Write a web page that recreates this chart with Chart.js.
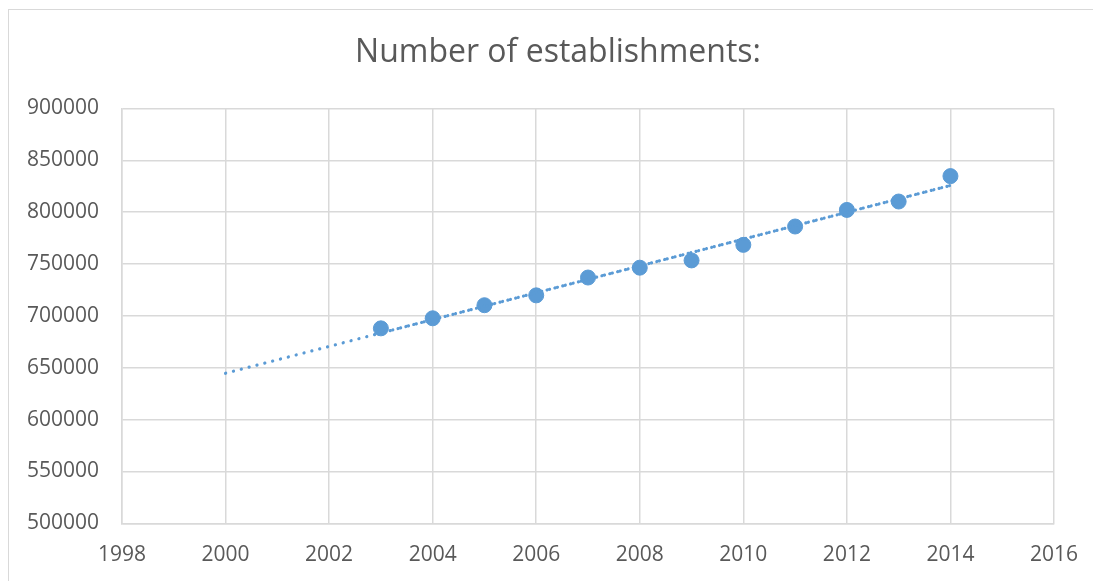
<!DOCTYPE html>
<html>
<head>
<meta charset="utf-8">
<script src="https://cdn.jsdelivr.net/npm/chart.js@4"></script>
<style>
  html, body { margin: 0; padding: 0; background: #fff; }
  #wrap { position: relative; width: 1093px; height: 581px; overflow: hidden; }
  #frame { position: absolute; left: 8px; top: 9px; width: 1100px; height: 600px; border: 1px solid #d9d9d9; box-sizing: border-box; }
  canvas { position: absolute; left: 0; top: 0; }
</style>
</head>
<body>
<div id="wrap">
  <div id="frame"></div>
  <canvas id="chart" width="1093" height="581"></canvas>
</div>
<script>
// Data
const years = [2003, 2004, 2005, 2006, 2007, 2008, 2009, 2010, 2011, 2012, 2013, 2014];
const establishments = [688000, 697700, 710300, 719800, 737000, 746500, 753500, 768500, 786200, 802200, 810300, 834800];
// Linear trendline endpoints (backward forecast to 2000)
const trendYears = [2000, 2014];
const trendValues = [644700, 825800];
const trendYearsShort = [2003, 2014];
const trendValuesShort = [683500, 825800];
const xTicks = [1998, 2000, 2002, 2004, 2006, 2008, 2010, 2012, 2014, 2016];
const chartTitle = 'Number of establishments:';

const blue = '#5b9bd5';
const textColor = '#595959';
const gridColor = '#d9d9d9';
const font = '"Open Sans", sans-serif';

const toPoints = (xs, ys) => xs.map((x, i) => ({ x: x, y: ys[i] }));

// Title drawn by hand so it can sit off-centre like the original
const titlePlugin = {
    id: 'offsetTitle',
    afterDraw(chart) {
        const ctx = chart.ctx;
        ctx.save();
        ctx.font = '32px ' + font;
        ctx.fillStyle = textColor;
        ctx.textAlign = 'center';
        ctx.textBaseline = 'middle';
        ctx.fillText(chartTitle, 558, 53.2);
        ctx.restore();
    }
};

new Chart(document.getElementById('chart'), {
    type: 'scatter',
    data: {
        datasets: [
            {
                label: 'Trend',
                type: 'line',
                data: toPoints(trendYears, trendValues),
                borderColor: blue,
                borderWidth: 3.2,
                borderDash: [0.1, 8],
                borderCapStyle: 'round',
                pointRadius: 0,
                fill: false,
                order: 1
            },
            {
                label: 'Trend 2',
                type: 'line',
                data: toPoints(trendYearsShort, trendValuesShort),
                borderColor: blue,
                borderWidth: 3.2,
                borderDash: [0.1, 8],
                borderDashOffset: 4,
                borderCapStyle: 'round',
                pointRadius: 0,
                fill: false,
                order: 1
            },
            {
                label: 'Number of establishments',
                data: toPoints(years, establishments),
                backgroundColor: blue,
                borderColor: blue,
                pointRadius: 7.5,
                pointHoverRadius: 7.5,
                order: 2
            }
        ]
    },
    plugins: [titlePlugin],
    options: {
        responsive: false,
        animation: false,
        layout: { padding: { left: 10, right: 39, top: 108.5, bottom: 0 } },
        plugins: {
            legend: { display: false },
            tooltip: { enabled: false },
            title: { display: false }
        },
        scales: {
            x: {
                type: 'linear',
                min: 1998,
                max: 2016,
                afterBuildTicks: axis => { axis.ticks = xTicks.map(v => ({ value: v })); },
                afterFit: axis => {
                    axis.height = 57.7;
                    axis.paddingLeft = 0;
                    axis.paddingRight = 0;
                },
                grid: { color: gridColor, lineWidth: 1.5, drawTicks: false },
                border: { color: gridColor, width: 1.5 },
                ticks: {
                    color: textColor,
                    font: { family: font, size: 21 },
                    padding: 19,
                    maxRotation: 0,
                    callback: v => String(v)
                }
            },
            y: {
                min: 500000,
                max: 900000,
                afterFit: axis => { axis.width = 112; },
                grid: { color: gridColor, lineWidth: 1.5, drawTicks: false },
                border: { color: gridColor, width: 1.5 },
                ticks: {
                    stepSize: 50000,
                    color: textColor,
                    font: { family: font, size: 21 },
                    padding: 23,
                    callback: v => String(v)
                }
            }
        }
    }
});
</script>
</body>
</html>
